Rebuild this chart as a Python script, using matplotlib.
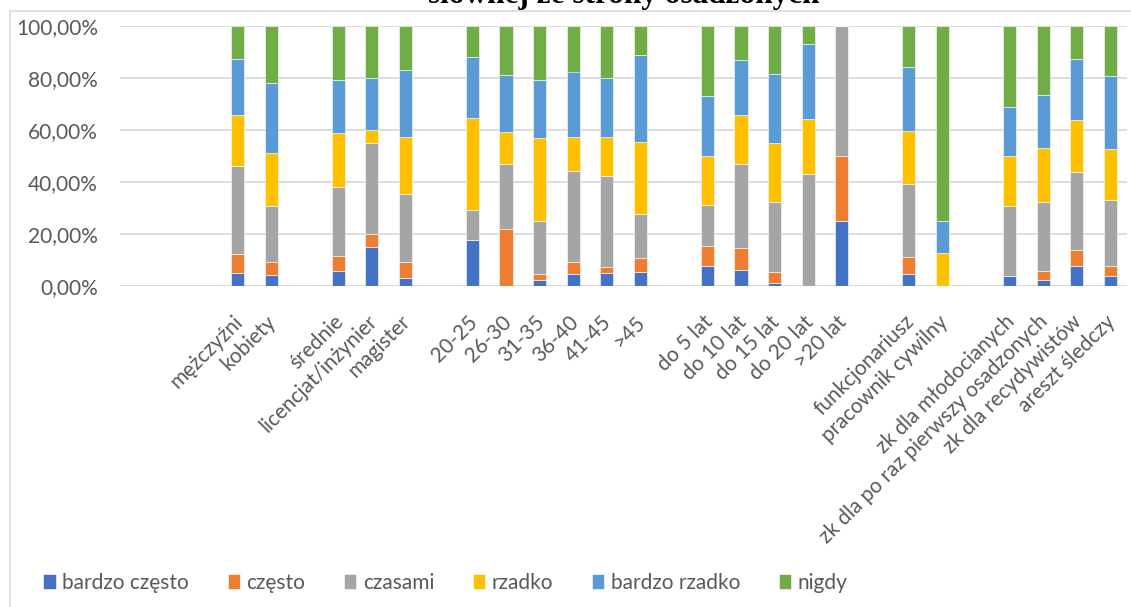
"""Stacked 100% bar chart: frequency of verbal aggression from inmates, by group."""

import matplotlib

matplotlib.use("Agg")

import matplotlib.pyplot as plt  # noqa: E402
import numpy as np  # noqa: E402
from matplotlib.patches import Rectangle  # noqa: E402
from matplotlib.ticker import FuncFormatter  # noqa: E402
from matplotlib.transforms import ScaledTranslation  # noqa: E402

# categories ("" = empty spacer column, as in the source sheet)
CATEGORIES = [
    "", "", "",
    "mężczyźni", "kobiety", "",
    "średnie", "licencjat/inżynier", "magister", "",
    "20-25", "26-30", "31-35", "36-40", "41-45", ">45", "",
    "do 5 lat", "do 10 lat", "do 15 lat", "do 20 lat", ">20 lat", "",
    "funkcjonariusz", "pracownik cywilny", "",
    "zk dla młodocianych", "zk dla po raz pierwszy osadzonych",
    "zk dla recydywistów", "areszt śledczy",
]
SERIES = ["bardzo często", "często", "czasami", "rzadko", "bardzo rzadko", "nigdy"]
COLORS = ["#4472C4", "#ED7D31", "#A5A5A5", "#FFC000", "#5B9BD5", "#70AD47"]

# percentages per series, one value per category (0 for spacer columns)
BARDZO_CZESTO = [0, 0, 0, 4.9, 4.1, 0, 5.7, 14.9, 3.1, 0,
                 17.6, 0.0, 2.2, 4.5, 4.9, 5.3, 0,
                 7.6, 6.3, 1.3, 0.0, 25.0, 0, 4.8, 0.0, 0,
                 3.7, 2.2, 7.6, 3.7]
CZESTO = [0, 0, 0, 7.4, 5.2, 0, 6.0, 5.0, 6.0, 0,
          0.0, 21.9, 2.3, 4.8, 2.3, 5.6, 0,
          7.8, 8.5, 4.2, 0.0, 25.0, 0, 6.3, 0.0, 0,
          0.0, 3.7, 6.3, 3.9]
CZASAMI = [0, 0, 0, 34.0, 21.4, 0, 26.3, 35.0, 26.4, 0,
           11.7, 24.9, 20.4, 34.9, 35.2, 16.7, 0,
           15.8, 32.0, 26.8, 42.9, 50.0, 0, 28.1, 0.0, 0,
           27.0, 26.5, 29.8, 25.6]
RZADKO = [0, 0, 0, 19.5, 20.5, 0, 20.7, 5.0, 22.0, 0,
          35.5, 12.5, 31.9, 13.0, 14.9, 27.8, 0,
          18.7, 19.0, 22.6, 21.4, 0.0, 0, 20.3, 12.5, 0,
          19.2, 20.7, 20.3, 19.4]
BARDZO_RZADKO = [0, 0, 0, 21.6, 26.7, 0, 20.7, 20.2, 25.7, 0,
                 23.2, 21.9, 22.6, 25.3, 22.8, 33.4, 0,
                 23.2, 21.3, 26.8, 28.6, 0.0, 0, 24.8, 12.5, 0,
                 19.1, 20.3, 23.4, 28.0]
NIGDY = [0, 0, 0, 12.6, 22.1, 0, 20.6, 19.9, 16.8, 0,
         12.0, 18.8, 20.6, 17.5, 19.9, 11.2, 0,
         26.9, 12.9, 18.3, 7.1, 0.0, 0, 15.7, 75.0, 0,
         31.0, 26.6, 12.6, 19.4]

TITLE = "słownej ze strony osadzonych"
W, H = 1131, 607


def main() -> None:
    plt.rcParams["font.family"] = ["Lato", "DejaVu Sans"]
    fig = plt.figure(figsize=(W / 100, H / 100), dpi=100)
    ax = fig.add_axes([120 / W, 1 - 286 / H, 1007 / W, 260 / H])

    # chart frame (cut off by the crop on the right and bottom)
    fig.patches.append(Rectangle(
        (10 / W, -0.2), 1.2, 1.2 - 11 / H, transform=fig.transFigure,
        facecolor="none", edgecolor="#d9d9d9", linewidth=1.2,
    ))

    x = np.arange(len(CATEGORIES))
    data = [BARDZO_CZESTO, CZESTO, CZASAMI, RZADKO, BARDZO_RZADKO, NIGDY]
    bottom = np.zeros(len(CATEGORIES))
    for name, vals, color in zip(SERIES, data, COLORS):
        vals = np.asarray(vals, dtype=float) / 100
        ax.bar(x, vals, 0.39, bottom=bottom, label=name, color=color,
               edgecolor="white", linewidth=0.4, zorder=3)
        bottom += vals

    ax.set_xlim(-0.5, len(CATEGORIES) - 0.5)
    ax.set_ylim(0, 1)
    ax.set_yticks(np.linspace(0, 1, 6))
    ax.yaxis.set_major_formatter(FuncFormatter(lambda v, _: f"{v * 100:.2f}%".replace(".", ",")))
    ax.grid(axis="y", color="#d9d9d9", linewidth=1.3, zorder=0)
    ax.set_axisbelow(True)
    for spine in ax.spines.values():
        spine.set_visible(False)
    ax.tick_params(axis="y", length=0, pad=16, labelsize=15, labelcolor="#595959")
    ax.tick_params(axis="x", length=0, pad=23.5, labelsize=15, labelcolor="#595959")

    ax.set_xticks(x)
    ax.set_xticklabels(CATEGORIES, rotation=45, ha="right", va="center",
                       rotation_mode="anchor")
    shift = ScaledTranslation(2 / 100, 0, fig.dpi_scale_trans)
    for lab in ax.get_xticklabels():
        lab.set_transform(lab.get_transform() + shift)

    fig.text(624 / W, 1 - 3 / H, TITLE, ha="center", va="baseline",
             fontsize=22.5, fontweight="bold", family="Liberation Serif")

    fig.legend(loc="center left", bbox_to_anchor=(35 / W, 1 - 583 / H), ncol=6,
               frameon=False, fontsize=15, labelcolor="#595959",
               handlelength=0.6, handleheight=0.7, handletextpad=0.3,
               columnspacing=1.86, borderaxespad=0)

    fig.savefig("out.png", dpi=100)


if __name__ == "__main__":
    main()
